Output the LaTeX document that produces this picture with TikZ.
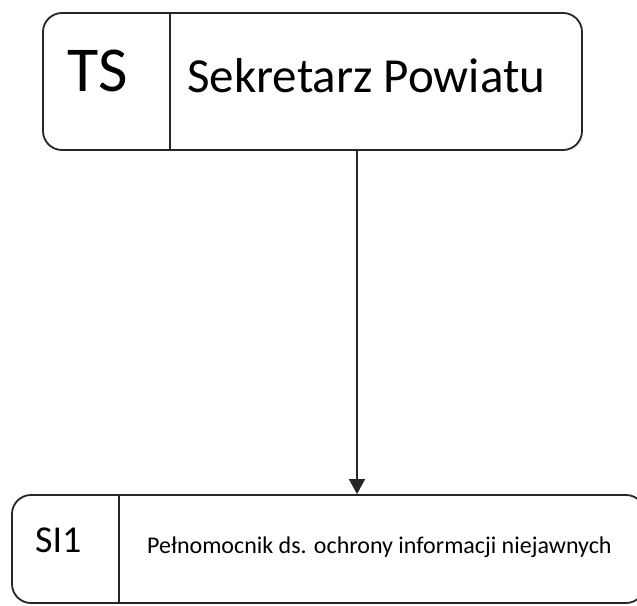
\documentclass[tikz,border=0pt]{standalone}
\usepackage{fontspec}
\setmainfont{Carlito}
\usetikzlibrary{arrows.meta,calc}
\begin{document}
\begin{tikzpicture}[x=1pt,y=-1pt,
  box/.style={draw=black!85,line width=1.8pt,rounded corners=19pt,inner sep=0pt,fill=none},
  divider/.style={draw=black!85,line width=1.4pt},
  conn/.style={draw=black!85,line width=1.4pt,-{Triangle[length=15pt,width=16pt]}},
  lbl/.style={anchor=base west,inner sep=0pt,text=black}]
\useasboundingbox (0,0) rectangle (637,605);
\node[box,minimum width=539pt,minimum height=137pt] (ts) at (312.5,81.5) {};
\draw[divider] ([xshift=128pt]ts.north west) -- ([xshift=128pt]ts.south west);
\node[lbl,font=\fontsize{64pt}{70pt}\selectfont] (tsl) at (67,91) {TS};
\node[lbl,font=\fontsize{49pt}{56pt}\selectfont] (tst) at (187,92) {Sekretarz Powiatu};
\node[box,minimum width=633pt,minimum height=108pt] (si) at (328.5,549) {};
\draw[divider] ([xshift=108pt]si.north west) -- ([xshift=108pt]si.south west);
\node[lbl,font=\fontsize{38pt}{44pt}\selectfont] (sil) at (35,552) {SI1};
\node[lbl,font=\fontsize{24pt}{28pt}\selectfont] (sit) at (147,553) {Pełnomocnik ds. ochrony informacji niejawnych};
\draw[conn] ([xshift=44.5pt]ts.south) -- ([xshift=44.5pt]ts.south |- si.north);
\end{tikzpicture}
\end{document}
